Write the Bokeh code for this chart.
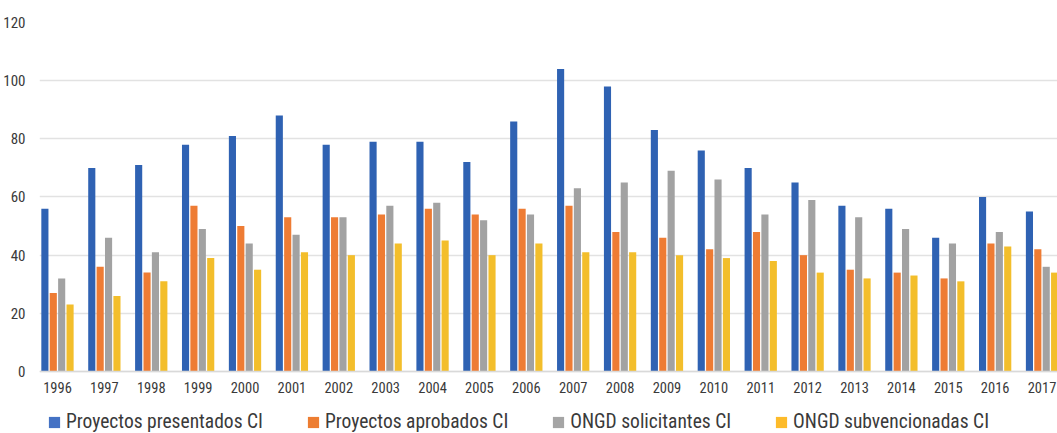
from bokeh.plotting import figure
from bokeh.models import (Range1d, FixedTicker, Legend, LegendItem, ColumnDataSource)
from bokeh.transform import dodge
from bokeh.embed import file_html
from bokeh.resources import INLINE

years = ["1996", "1997", "1998", "1999", "2000", "2001", "2002", "2003", "2004", "2005", "2006",
         "2007", "2008", "2009", "2010", "2011", "2012", "2013", "2014", "2015", "2016", "2017"]
presentados = [56, 70, 71, 78, 81, 88, 78, 79, 79, 72, 86, 104, 98, 83, 76, 70, 65, 57, 56, 46, 60, 55]
aprobados = [27, 36, 34, 57, 50, 53, 53, 54, 56, 54, 56, 57, 48, 46, 42, 48, 40, 35, 34, 32, 44, 42]
solicitantes = [32, 46, 41, 49, 44, 47, 53, 57, 58, 52, 54, 63, 65, 69, 66, 54, 59, 53, 49, 44, 48, 36]
subvencionadas = [23, 26, 31, 39, 35, 41, 40, 44, 45, 40, 44, 41, 41, 40, 39, 38, 34, 32, 33, 31, 43, 34]
series_names = ["Proyectos presentados CI", "Proyectos aprobados CI",
                "ONGD solicitantes CI", "ONGD subvencionadas CI"]

FONT = "Roboto Condensed"
bar_colors = ["#2f62b3", "#ee7c34", "#a2a2a2", "#f3be2b"]
legend_colors = ["#4472c4", "#ed7d31", "#a5a5a5", "#fdbb2a"]

idx = list(range(len(years)))
src = ColumnDataSource(dict(x=idx, p=presentados, a=aprobados, s=solicitantes, v=subvencionadas))

p = figure(width=1057, height=433, output_backend="svg", toolbar_location=None,
           x_range=Range1d(-0.3835, 21.33), y_range=Range1d(-21.32, 120),
           min_border_left=38, min_border_right=0, min_border_top=22, min_border_bottom=0)
p.outline_line_color = None
p.background_fill_color = "white"

offsets = [-0.2685, -0.0895, 0.0895, 0.2685]
cols = ["p", "a", "s", "v"]
for c, off, col in zip(cols, offsets, bar_colors):
    p.vbar(x=dodge("x", off, range=p.x_range), top=c, width=0.152, source=src,
           fill_color=col, line_color=None)

items = []
for name, col in zip(series_names, legend_colors):
    # swatch-only renderer kept outside the visible x range
    r = p.quad(left=[-5], right=[-4.9], bottom=[0], top=[1], fill_color=col, line_color=None)
    items.append(LegendItem(label=name, renderers=[r]))
lg = Legend(items=items, location=(8, 0), orientation="horizontal",
            padding=0, margin=0, spacing=43,
            glyph_width=14, glyph_height=14, label_standoff=5,
            label_text_font=FONT, label_text_font_size="19.5px",
            label_text_color="#3a3a3a", border_line_alpha=0,
            background_fill_alpha=0)
p.add_layout(lg)

p.xaxis.fixed_location = 0
p.xaxis.ticker = FixedTicker(ticks=idx)
p.xaxis.major_label_overrides = {i: y for i, y in zip(idx, years)}
p.xaxis.major_tick_line_color = None
p.xaxis.minor_tick_line_color = None
p.xaxis.axis_line_color = "#d9d9d9"
p.xaxis.axis_line_width = 1.5
p.xaxis.major_label_text_font = FONT
p.xaxis.major_label_text_font_size = "14.5px"
p.xaxis.major_label_text_color = "#3a3a3a"
p.xaxis.major_label_standoff = 5

p.yaxis.ticker = FixedTicker(ticks=[0, 20, 40, 60, 80, 100, 120])
p.yaxis.axis_line_color = None
p.yaxis.major_tick_line_color = None
p.yaxis.minor_tick_line_color = None
p.yaxis.major_label_text_font = FONT
p.yaxis.major_label_text_font_size = "15px"
p.yaxis.major_label_text_color = "#3a3a3a"
p.yaxis.major_label_standoff = 8

p.xgrid.grid_line_color = None
p.ygrid.grid_line_color = "#e2e2e2"
p.ygrid.grid_line_width = 1.5

open("out.html", "w").write(file_html(p, INLINE))
